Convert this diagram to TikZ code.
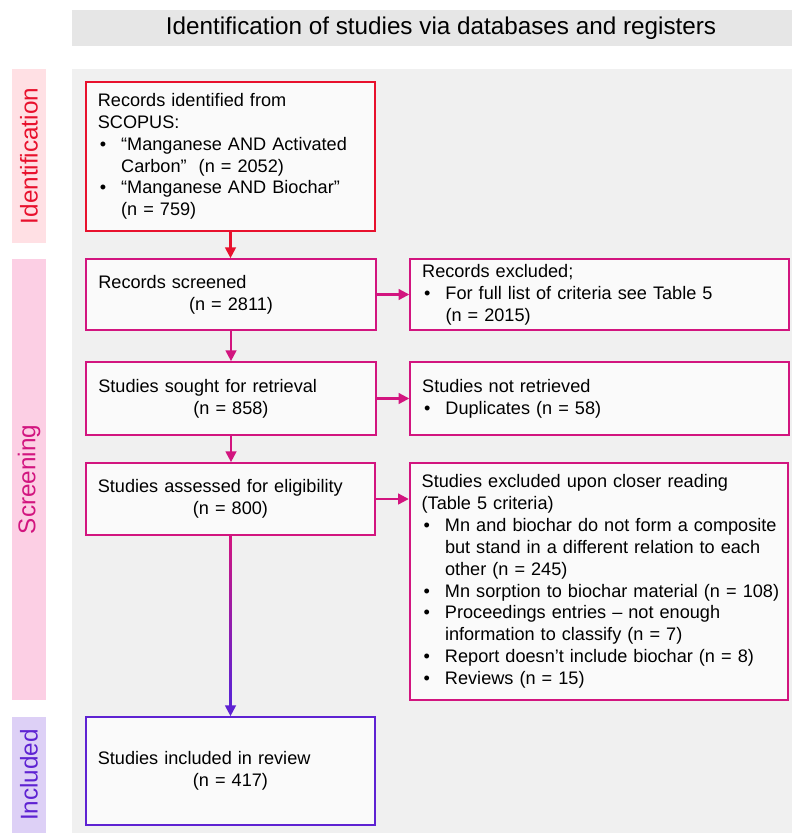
\documentclass[tikz,border=0pt]{standalone}
\usepackage{fontspec}
\setmainfont{Liberation Sans}
\usetikzlibrary{arrows.meta}
\usetikzlibrary{calc}
\definecolor{idcol}{HTML}{E8112D}
\definecolor{scrcol}{HTML}{D2157F}
\definecolor{inccol}{HTML}{5E22D2}
\definecolor{idfill}{HTML}{FFE0E4}
\definecolor{scrfill}{HTML}{FCCFE4}
\definecolor{incfill}{HTML}{DDD0F6}
\definecolor{headfill}{HTML}{E6E6E6}
\definecolor{areafill}{HTML}{F0F0F0}
\definecolor{boxfill}{HTML}{FAFAFA}
\hfuzz=40pt
\tikzset{
every picture/.style={>={Triangle[width=8pt,length=8pt]}},
%%%%%%%%%%  Node styles
stagebox/.style={draw, fill=boxfill, line width=1.3pt, inner xsep=9pt,
                 inner ysep=2pt, align=left,
                 font=\fontsize{13.6pt}{16.4pt}\selectfont},
leftbox/.style={stagebox, text width=199pt},
rightbox/.style={stagebox, text width=266pt},
sidelabel/.style={rotate=90, minimum height=25.5pt, inner sep=0pt,
                  font=\fontsize{18.2pt}{20pt}\selectfont},
%%%%%%% connector styles
flow/.style={->, line width=1.6pt},
}
% bullet line with hanging indent, lines given as \mbox'es
\newcommand{\bitem}[1]{\par\hangindent=17.5pt\hangafter=1\noindent
  \hbox to 17.5pt{\hspace{1.5pt}\textbullet\hss}#1\par}

\begin{document}
\begin{tikzpicture}[x=0.75pt, y=-0.75pt]
\useasboundingbox (0,0) rectangle (792,833);
%%%%%%% backgrounds
\fill[headfill] (72,10) rectangle (792,46);
\fill[areafill] (72,69) rectangle (792,833);
\node[font=\fontsize{18.2pt}{20pt}\selectfont] (title) at (441,28)
     {Identification of studies via databases and registers};
%%%%%%% stage labels
\node[sidelabel, fill=idfill, text=idcol, minimum width=130.5pt] (lid)
     at (29,156) {Identification};
\node[sidelabel, fill=scrfill, text=scrcol, minimum width=330.75pt] (lscr)
     at (29,479.5) {Screening};
\node[sidelabel, fill=incfill, text=inccol, minimum width=87pt] (linc)
     at (29,775) {Included};
%%%%%%% boxes
\node[leftbox, draw=idcol, minimum height=111.75pt] (ident) at (230.5,156.5)
     {Records identified from\newline SCOPUS:
      \bitem{\mbox{“Manganese AND Activated}\newline
             \mbox{Carbon”\ \ (n = 2052)}}
      \bitem{\mbox{“Manganese AND Biochar”}\newline \mbox{(n = 759)}}};
\node[leftbox, draw=scrcol, minimum height=53.25pt] (screened) at (231,294.5)
     {Records screened\par\centerline{(n = 2811)}};
\node[rightbox, draw=scrcol, minimum height=53.25pt] (excluded) at (599.5,294.5)
     {Records excluded;
      \bitem{\mbox{For full list of criteria see Table 5}\newline
             \mbox{(n = 2015)}}};
\node[leftbox, draw=scrcol, minimum height=54.75pt] (sought) at (231,398.5)
     {Studies sought for retrieval\par\centerline{(n = 858)}};
\node[rightbox, draw=scrcol, minimum height=54.75pt] (notretr) at (599.5,398.5)
     {Studies not retrieved
      \bitem{\mbox{Duplicates (n = 58)}}};
\node[leftbox, draw=scrcol, minimum height=54pt] (assessed) at (230.5,499)
     {Studies assessed for eligibility\par\centerline{(n = 800)}};
\node[rightbox, draw=scrcol, minimum height=177.75pt] (closer) at (599,581.5)
     {Studies excluded upon closer reading\newline (Table 5 criteria)
      \bitem{\mbox{Mn and biochar do not form a composite}\newline
             \mbox{but stand in a different relation to each}\newline
             \mbox{other (n = 245)}}
      \bitem{\mbox{Mn sorption to biochar material (n = 108)}}
      \bitem{\mbox{Proceedings entries – not enough}\newline
             \mbox{information to classify (n = 7)}}
      \bitem{\mbox{Report doesn’t include biochar (n = 8)}}
      \bitem{\mbox{Reviews (n = 15)}}};
\node[leftbox, draw=inccol, minimum height=81pt] (included) at (230.5,771)
     {Studies included in review\par\centerline{(n = 417)}};
%%%%%%% connectors
\draw[flow, idcol] (ident.south) -- (ident.south |- screened.north);
\draw[flow, scrcol] (screened.south) -- (screened.south |- sought.north);
\draw[flow, scrcol] (sought.south) -- (sought.south |- assessed.north);
\draw[flow, scrcol] (screened.east) -- (excluded.west);
\draw[flow, scrcol] (sought.east) -- (notretr.west);
\draw[flow, scrcol] (assessed.east) -- (assessed.east -| closer.west);
\draw[flow, inccol] (assessed.south) -- (assessed.south |- included.north);
% colour blend along the long shaft
\shade[top color=scrcol, bottom color=inccol]
  ($(assessed.south)+(-1.07,0)$) rectangle
  ($(assessed.south)!0.88!(assessed.south |- included.north)+(1.07,0)$);
\end{tikzpicture}
\end{document}
